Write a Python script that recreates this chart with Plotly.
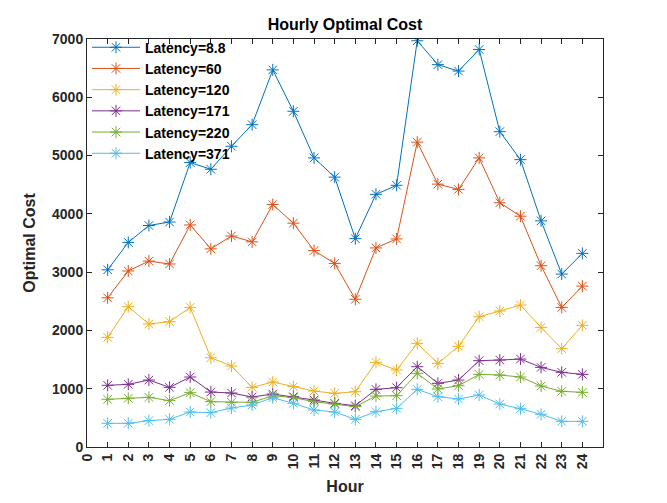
import plotly.graph_objects as go

hours = list(range(1, 25))
series_names = ["Latency=8.8", "Latency=60", "Latency=120", "Latency=171", "Latency=220", "Latency=371"]

lat_8_8 = [3040, 3510, 3800, 3860, 4880, 4765, 5160, 5530, 6470, 5760, 4960, 4630,
           3575, 4335, 4490, 6970, 6560, 6450, 6820, 5410, 4930, 3880, 2967, 3322]
lat_60 = [2560, 3020, 3190, 3140, 3810, 3400, 3620, 3520, 4160, 3840, 3370, 3150,
          2535, 3415, 3570, 5230, 4510, 4420, 4960, 4190, 3960, 3110, 2395, 2760]
lat_120 = [1881, 2407, 2110, 2150, 2395, 1532, 1389, 1023, 1115, 1035, 960, 920,
           949, 1452, 1321, 1778, 1435, 1727, 2235, 2333, 2435, 2052, 1687, 2087]
lat_171 = [1058, 1075, 1149, 1023, 1201, 943, 926, 858, 909, 863, 806, 749,
           709, 989, 1018, 1378, 1092, 1149, 1481, 1492, 1509, 1366, 1281, 1246]
lat_220 = [818, 835, 852, 795, 932, 778, 766, 766, 880, 846, 778, 737,
           692, 875, 880, 1263, 995, 1052, 1246, 1235, 1201, 1046, 955, 938]
lat_371 = [406, 406, 452, 475, 600, 589, 669, 720, 846, 749, 635, 600,
           475, 606, 663, 989, 863, 823, 892, 737, 657, 560, 440, 440]

x_ticks = list(range(0, 25))
y_ticks = list(range(0, 7001, 1000))

colors = ["#0072BD", "#D95319", "#EDB120", "#7E2F8E", "#77AC30", "#4DBEEE"]
all_series = [lat_8_8, lat_60, lat_120, lat_171, lat_220, lat_371]

fig = go.Figure()
for name, vals, c in zip(series_names, all_series, colors):
    fig.add_trace(go.Scatter(
        x=hours, y=vals, name=f"<b>{name}</b>", mode="lines+markers",
        line=dict(color=c, width=1),
        marker=dict(symbol="asterisk-open", size=10, color=c, line=dict(color=c, width=1)),
    ))

font_family = "Liberation Sans, Arial, sans-serif"
fig.update_layout(
    width=667, height=503,
    margin=dict(l=87, r=64, t=39, b=56),
    paper_bgcolor="white", plot_bgcolor="white",
    font=dict(family=font_family, color="#262626"),
    title=dict(text="<b>Hourly Optimal Cost</b>", x=0.5, xref="paper", xanchor="center",
               y=1, yref="paper", yanchor="bottom", pad=dict(b=9),
               font=dict(size=16, color="black")),
    showlegend=True,
    legend=dict(x=0.0, y=1.018, xanchor="left", yanchor="top",
                bgcolor="rgba(255,255,255,0)", borderwidth=0,
                font=dict(size=14, color="black", family=font_family),
                itemwidth=48, tracegroupgap=0),
)
fig.update_xaxes(
    range=[0, 25], tickmode="array", tickvals=x_ticks,
    ticktext=[f"<b>{t}</b>" for t in x_ticks], tickangle=-90,
    ticks="inside", ticklen=5, tickcolor="#262626", mirror="ticks",
    showline=True, linecolor="#262626", linewidth=1, showgrid=False, zeroline=False,
    tickfont=dict(size=14, color="#262626"),
    title=dict(text="<b>Hour</b>", font=dict(size=16, color="#262626"), standoff=12),
)
fig.update_yaxes(
    range=[0, 7000], tickmode="array", tickvals=y_ticks,
    ticktext=[f"<b>{t}</b>" for t in y_ticks],
    ticks="inside", ticklen=5, tickcolor="#262626", mirror="ticks",
    showline=True, linecolor="#262626", linewidth=1, showgrid=False, zeroline=False,
    tickfont=dict(size=14, color="#262626"),
    title=dict(text="<b>Optimal Cost</b>", font=dict(size=16, color="#262626"), standoff=12),
)

fig.write_html("out.html")
